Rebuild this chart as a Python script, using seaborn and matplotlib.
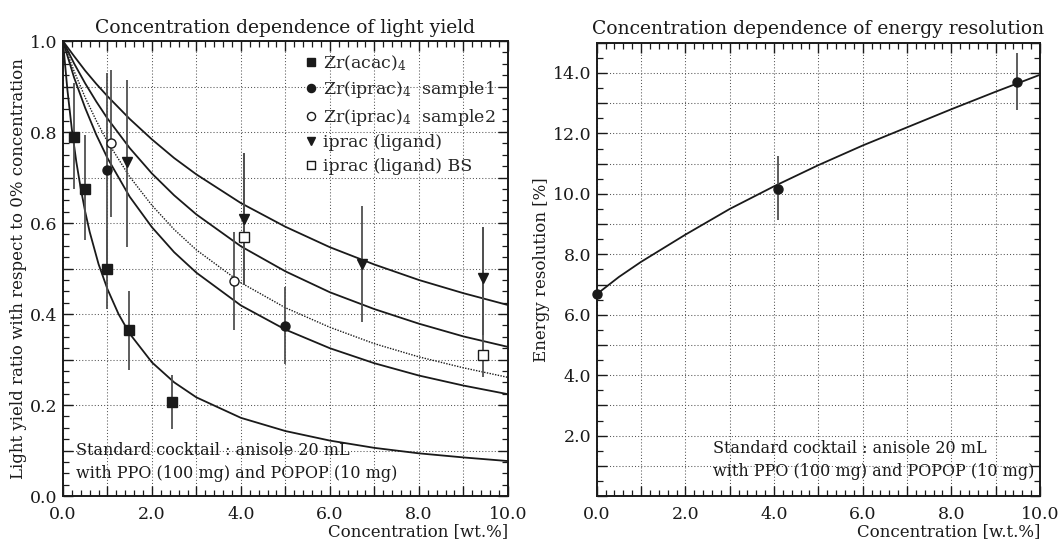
import numpy as np
import pandas as pd
import matplotlib
matplotlib.use("Agg")
import matplotlib.pyplot as plt
from matplotlib.ticker import MultipleLocator, FuncFormatter
import seaborn as sns

# ---- light yield data (left panel) ----
acac_x = [0.25, 0.49, 0.98, 1.48, 2.44]
acac_y = [0.79, 0.676, 0.50, 0.365, 0.206]
acac_lo = [0.675, 0.563, 0.412, 0.277, 0.147]
acac_hi = [0.907, 0.793, 0.585, 0.451, 0.266]

s1_x = [1.0, 5.0]
s1_y = [0.716, 0.374]
s1_lo = [0.50, 0.29]
s1_hi = [0.93, 0.46]

s2_x = [1.07, 3.84]
s2_y = [0.775, 0.473]
s2_lo = [0.614, 0.366]
s2_hi = [0.936, 0.58]

lig_x = [1.43, 4.08, 6.72, 9.44]
lig_y = [0.735, 0.608, 0.511, 0.48]
lig_lo = [0.548, 0.464, 0.383, 0.355]
lig_hi = [0.914, 0.753, 0.637, 0.592]

bs_x = [4.08, 9.44]
bs_y = [0.569, 0.31]
bs_lo = [0.464, 0.262]
bs_hi = [0.753, 0.592]

# fitted curves
curve_a_x = [0, 0.1, 0.2, 0.3, 0.4, 0.5, 0.6, 0.8, 1.0, 1.25, 1.5, 2, 2.5, 3, 4, 5, 6, 7, 8, 9, 10]
curve_a_y = [1.0, 0.893, 0.806, 0.735, 0.676, 0.625, 0.581, 0.510, 0.455, 0.400, 0.357,
             0.294, 0.250, 0.217, 0.172, 0.143, 0.122, 0.106, 0.094, 0.085, 0.077]
curve_x = [0, 0.25, 0.5, 0.75, 1, 1.5, 2, 2.5, 3, 4, 5, 6, 7, 8, 9, 10]
curve_b_y = [1.0, 0.920, 0.853, 0.794, 0.743, 0.658, 0.591, 0.536, 0.491, 0.419, 0.366,
             0.325, 0.292, 0.265, 0.243, 0.224]
curve_c_y = [1.0, 0.934, 0.876, 0.825, 0.779, 0.702, 0.639, 0.586, 0.541, 0.469, 0.414,
             0.371, 0.335, 0.306, 0.282, 0.261]
curve_d_y = [1.0, 0.951, 0.907, 0.867, 0.830, 0.765, 0.709, 0.661, 0.619, 0.549, 0.494,
             0.448, 0.411, 0.379, 0.351, 0.328]
curve_e_y = [1.0, 0.967, 0.935, 0.906, 0.879, 0.829, 0.784, 0.743, 0.707, 0.644, 0.592,
             0.547, 0.509, 0.475, 0.446, 0.420]

# ---- energy resolution data (right panel) ----
res_x = [0.0, 4.10, 9.47]
res_y = [6.68, 10.17, 13.70]
res_lo = [6.68, 9.12, 12.76]
res_hi = [6.68, 11.26, 14.66]
res_curve_x = [0, 0.5, 1, 1.5, 2, 3, 4, 5, 6, 7, 8, 9, 10]
res_curve_y = [6.68, 7.25, 7.75, 8.2, 8.65, 9.5, 10.25, 10.95, 11.6, 12.2, 12.8, 13.38, 13.94]

note = "Standard cocktail : anisole 20 mL\nwith PPO (100 mg) and POPOP (10 mg)"

sns.set_style("ticks")
plt.rcParams['font.family'] = ['DejaVu Serif']
plt.rcParams['mathtext.fontset'] = 'dejavuserif'

ink = '#1a1a1a'
bar_col = '#505050'

fig = plt.figure(figsize=(10.58, 5.41), dpi=100)
ax1 = fig.add_axes([0.0595, 0.083, 0.4205, 0.841])
ax2 = fig.add_axes([0.564, 0.083, 0.419, 0.838])


def style_axes(ax, ymaj, ymin, label_step, skip_zero=False):
    ax.set_xlim(0, 10)
    ax.xaxis.set_major_locator(MultipleLocator(1))
    ax.xaxis.set_minor_locator(MultipleLocator(0.2))
    ax.yaxis.set_major_locator(MultipleLocator(ymaj))
    ax.yaxis.set_minor_locator(MultipleLocator(ymin))
    ax.xaxis.set_major_formatter(FuncFormatter(
        lambda v, p: f"{v:.1f}" if abs(v / 2 - round(v / 2)) < 1e-6 else ""))

    def yfmt(v, p):
        r = v / label_step
        if abs(r - round(r)) > 1e-6:
            return ""
        if skip_zero and abs(v) < 1e-9:
            return ""
        return f"{v:.1f}"
    ax.yaxis.set_major_formatter(FuncFormatter(yfmt))
    ax.tick_params(which='both', direction='in', top=True, right=True,
                   colors=ink, labelsize=12.5)
    ax.tick_params(which='major', length=7, width=1.0)
    ax.tick_params(which='minor', length=4, width=0.9)
    ax.tick_params(axis='x', which='major', pad=7)
    ax.tick_params(axis='y', which='major', pad=4)
    ax.grid(True, which='major', linestyle=(0, (1, 2)), color='#555555', linewidth=0.75)
    for s in ax.spines.values():
        s.set_linewidth(1.4)
        s.set_color(ink)


# ---------- left panel ----------
style_axes(ax1, 0.1, 0.025, 0.2)
ax1.set_ylim(0, 1.0)

sns.lineplot(x=curve_a_x, y=curve_a_y, ax=ax1, color=ink, lw=1.3)
sns.lineplot(x=curve_x, y=curve_b_y, ax=ax1, color=ink, lw=1.3)
sns.lineplot(x=curve_x, y=curve_c_y, ax=ax1, color=ink, lw=1.0, linestyle=(0, (1, 1)))
sns.lineplot(x=curve_x, y=curve_d_y, ax=ax1, color=ink, lw=1.3)
sns.lineplot(x=curve_x, y=curve_e_y, ax=ax1, color=ink, lw=1.3)

series = [
    (acac_x, acac_y, acac_lo, acac_hi, 's', ink, ink, 6.5, "Zr(acac)$_4$"),
    (s1_x, s1_y, s1_lo, s1_hi, 'o', ink, ink, 6.5, "Zr(iprac)$_4$  sample1"),
    (s2_x, s2_y, s2_lo, s2_hi, 'o', 'white', ink, 6.5, "Zr(iprac)$_4$  sample2"),
    (lig_x, lig_y, lig_lo, lig_hi, 'v', ink, ink, 6.5, "iprac (ligand)"),
    (bs_x, bs_y, bs_lo, bs_hi, 's', 'white', ink, 7, "iprac (ligand) BS"),
]
handles = []
for xs, ys, lo, hi, mk, fc, ec, ms, lab in series:
    yerr = [np.array(ys) - np.array(lo), np.array(hi) - np.array(ys)]
    ax1.errorbar(xs, ys, yerr=yerr, fmt='none', ecolor=bar_col, elinewidth=1.3, capsize=0, zorder=3)
    h, = ax1.plot(xs, ys, linestyle='none', marker=mk, markersize=ms,
                  markerfacecolor=fc, markeredgecolor=ec, markeredgewidth=1.0,
                  label=lab, zorder=4)
    handles.append(h)

ax1.legend(handles=handles, loc='upper right', bbox_to_anchor=(1.0, 1.0), frameon=False,
           fontsize=12.5, handlelength=0.6, handletextpad=0.4, labelspacing=0.38,
           borderaxespad=0.3, markerscale=0.9)
ax1.text(0.29, 0.075, note, fontsize=11.5, color=ink, va='center', linespacing=1.45,
         transform=ax1.transData)
ax1.set_title("Concentration dependence of light yield", fontsize=13.5, color=ink, pad=6)
ax1.set_ylabel("Light yield ratio with respect to 0% concentration", fontsize=12, color=ink,
               labelpad=2)
ax1.set_xlabel("Concentration [wt.%]", fontsize=12, color=ink, loc='right', labelpad=0)

# ---------- right panel ----------
style_axes(ax2, 1.0, 0.5, 2.0, skip_zero=True)
ax2.set_ylim(0, 15)

sns.lineplot(x=res_curve_x, y=res_curve_y, ax=ax2, color=ink, lw=1.3)
res_err = [np.array(res_y) - np.array(res_lo), np.array(res_hi) - np.array(res_y)]
ax2.errorbar(res_x, res_y, yerr=res_err, fmt='none', ecolor=bar_col, elinewidth=1.3, capsize=0,
             zorder=3, clip_on=False)
ax2.plot(res_x, res_y, linestyle='none', marker='o', markersize=6.5, color=ink, zorder=4,
         clip_on=False)
ax2.text(2.62, 1.2, note, fontsize=11.5, color=ink, va='center', linespacing=1.45)
ax2.set_title("Concentration dependence of energy resolution", fontsize=13.5, color=ink, pad=6)
ax2.set_ylabel("Energy resolution [%]", fontsize=12, color=ink, labelpad=2)
ax2.set_xlabel("Concentration [w.t.%]", fontsize=12, color=ink, loc='right', labelpad=0)

fig.savefig("out.png", dpi=100)
